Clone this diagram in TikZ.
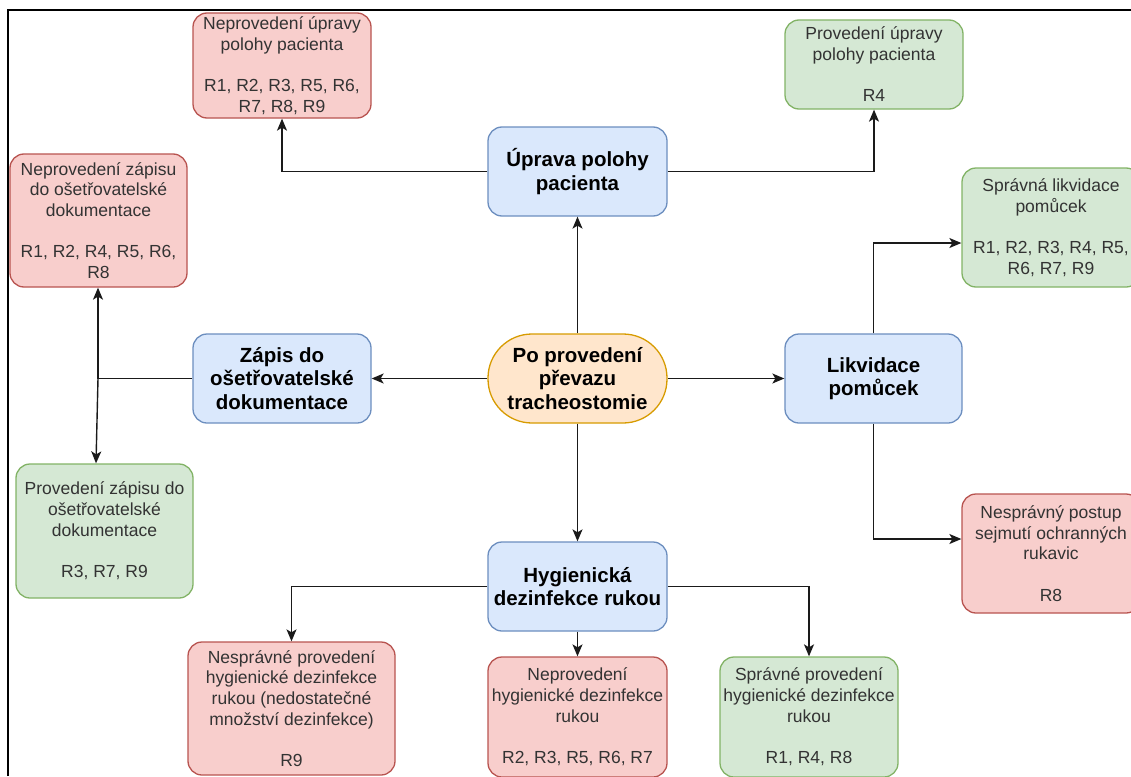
\documentclass[tikz,border=0pt]{standalone}
\usepackage{fontspec}
\setmainfont{Liberation Sans}
\usetikzlibrary{arrows.meta,calc}
\definecolor{bfill}{HTML}{DAE8FC}
\definecolor{bdraw}{HTML}{6C8EBF}
\definecolor{gfill}{HTML}{D5E8D4}
\definecolor{gdraw}{HTML}{82B366}
\definecolor{rfill}{HTML}{F8CECC}
\definecolor{rdraw}{HTML}{B85450}
\definecolor{ofill}{HTML}{FFE6CC}
\definecolor{odraw}{HTML}{D79B00}
\definecolor{txt}{HTML}{333333}
\definecolor{lnc}{HTML}{1A1A1A}
\begin{document}
\begin{tikzpicture}[x=1pt,y=-1pt,
  box/.style={draw, rounded corners=14pt, line width=1.3pt, inner sep=0pt, align=center,
    font=\fontsize{17.5}{20.7}\selectfont, text=txt},
  mainbox/.style={box, fill=bfill, draw=bdraw, font=\bfseries\fontsize{20.5}{23.5}\selectfont,
    text=black, minimum width=179pt, minimum height=89pt},
  badbox/.style={box, fill=rfill, draw=rdraw},
  goodbox/.style={box, fill=gfill, draw=gdraw},
  startbox/.style={mainbox, fill=ofill, draw=odraw, rounded corners=44pt},
  arr/.style={-{Stealth[length=12pt,width=10pt,inset=3pt]}, line width=1.4pt, draw=lnc},
  plain/.style={line width=1.4pt, draw=lnc}
]
\useasboundingbox (0,0) rectangle (1131,776);
\clip (0,0) rectangle (1131,776);

% frame
\coordinate (fbl) at (8,776);
\coordinate (ftl) at (8,10);
\coordinate (ftr) at (1131,10);
\draw[line width=2pt] (fbl) -- (ftl) -- (ftr);

% main nodes
\node[startbox] (c) at (577.5,378.5) {Po provedení\\převazu\\tracheostomie};
\node[mainbox] (up) at (577.5,171.5) {Úprava polohy\\pacienta};
\node[mainbox, minimum width=178pt] (zap) at (282,378.5) {Zápis do\\ošetřovatelské\\dokumentace};
\node[mainbox, minimum width=177pt] (lik) at (873.5,378.5) {Likvidace\\pomůcek};
\node[mainbox] (hyg) at (577.5,586.5) {Hygienická\\dezinfekce rukou};

% outcome nodes
\node[badbox, minimum width=178pt, minimum height=105pt] (nup) at (282,65.5)
  {Neprovedení úpravy\\polohy pacienta\\[20.7pt]R1, R2, R3, R5, R6,\\R7, R8, R9};
\node[goodbox, minimum width=178pt, minimum height=89pt] (pup) at (874,64.5)
  {Provedení úpravy\\polohy pacienta\\[20.7pt]R4};
\node[badbox, minimum width=177pt, minimum height=133pt] (nz) at (98.5,220.5)
  {Neprovedení zápisu\\do ošetřovatelské\\dokumentace\\[20.7pt]R1, R2, R4, R5, R6,\\R8};
\node[goodbox, minimum width=177pt, minimum height=134pt] (pz) at (104.5,531)
  {Provedení zápisu do\\ošetřovatelské\\dokumentace\\[20.7pt]R3, R7, R9};
\node[goodbox, minimum width=178pt, minimum height=119pt] (sl) at (1051,227.5)
  {Správná likvidace\\pomůcek\\[20.7pt]R1, R2, R3, R4, R5,\\R6, R7, R9};
\node[badbox, minimum width=178pt, minimum height=119pt] (np) at (1051,553.5)
  {Nesprávný postup\\sejmutí ochranných\\rukavic\\[20.7pt]R8};
\node[badbox, minimum width=207pt, minimum height=133pt] (nsp) at (291.5,708.5)
  {Nesprávné provedení\\hygienické dezinfekce\\rukou (nedostatečné\\množství dezinfekce)\\[20.7pt]R9};
\node[badbox, minimum width=179pt, minimum height=120pt] (nh) at (577.5,717)
  {Neprovedení\\hygienické dezinfekce\\rukou\\[20.7pt]R2, R3, R5, R6, R7};
\node[goodbox, minimum width=178pt, minimum height=120pt] (spr) at (809,717)
  {Správné provedení\\hygienické dezinfekce\\rukou\\[20.7pt]R1, R4, R8};

% connectors from start
\draw[arr] (c.north) -- (up.south);
\draw[arr] (c.west) -- (zap.east);
\draw[arr] (c.east) -- (lik.west);
\draw[arr] (c.south) -- (hyg.north);

% uprava
\draw[arr] (up.west) -| (nup.south);
\draw[arr] (up.east) -| (pup.south);

% zapis
\coordinate (j) at (98,378.5);
\draw[plain] (zap.west) -- (j);
\draw[arr] (j) -- (j |- nz.south);
\draw[arr] (j) -- ($(j |- pz.north)+(-2,0)$);

% likvidace
\draw[arr] (lik.north) |- ($(sl.west)+(0,15.5)$);
\draw[arr] (lik.south) |- ($(np.west)+(0,-14.5)$);

% hygiena
\draw[arr] (hyg.west) -| (nsp.north);
\draw[arr] (hyg.south) -- (nh.north);
\draw[arr] (hyg.east) -| (spr.north);
\end{tikzpicture}
\end{document}
